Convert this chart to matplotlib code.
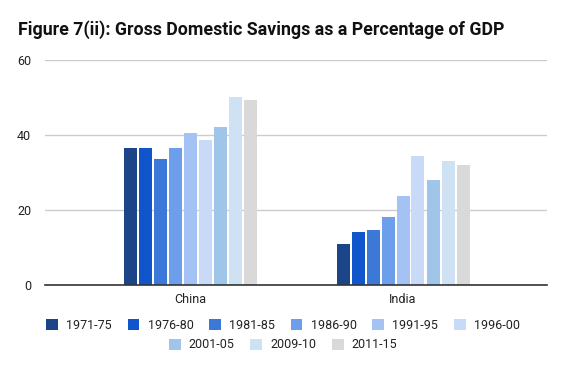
import matplotlib
matplotlib.use("Agg")
import matplotlib.pyplot as plt
import numpy as np
from matplotlib.patches import Patch

plt.rcParams['font.family'] = ['Roboto', 'DejaVu Sans']

countries = ['China', 'India']
periods = ['1971-75', '1976-80', '1981-85', '1986-90', '1991-95',
           '1996-00', '2001-05', '2009-10', '2011-15']

# savings as % of GDP, one list per country, in period order
china = [36.5, 36.5, 33.6, 36.5, 40.6, 38.7, 42.1, 50.1, 49.3]
india = [10.9, 14.1, 14.7, 18.2, 23.7, 34.4, 28.0, 33.1, 32.0]

colors = ['#1c4587', '#1155cc', '#3c78d8', '#6d9eeb', '#a4c2f4',
          '#c9daf8', '#9fc5e8', '#cfe2f3', '#d9d9d9']

y_ticks = [0, 20, 40, 60]

fig = plt.figure(figsize=(5.66, 3.71), dpi=100)
ax = fig.add_axes([45 / 566, 1 - 285 / 371, 502 / 566, 225 / 371])

values = np.array([china, india])
x = np.arange(len(countries))
pitch = 15 / 213
width = 13 / 213

for j, period in enumerate(periods):
    ax.bar(x + (j - 4) * pitch, values[:, j], width=width,
           color=colors[j], zorder=3, linewidth=0)

ax.set_xlim(-145 / 213, 1 + 144 / 213)
ax.set_ylim(0, 60)
ax.set_yticks(y_ticks)
ax.set_xticks(x)
ax.set_xticklabels(countries)
ax.tick_params(axis='both', length=0, labelsize=9, colors='#222222')
ax.tick_params(axis='y', pad=10)
ax.tick_params(axis='x', pad=6)
ax.grid(axis='y', color='#cccccc', linewidth=1, zorder=0)
for s in ['top', 'right', 'left']:
    ax.spines[s].set_visible(False)
ax.spines['bottom'].set_color('#333333')
ax.spines['bottom'].set_linewidth(1.2)
ax.spines['bottom'].set_zorder(4)

fig.text(18 / 566, 1 - 35 / 371,
         'Figure 7(ii): Gross Domestic Savings as a Percentage of GDP',
         fontsize=12.8, fontweight='bold', color='#111111', va='baseline')

handles = [Patch(facecolor=c, edgecolor='none') for c in colors]
leg_opts = dict(loc='center', frameon=False, fontsize=9,
                handlelength=0.95, handleheight=0.95, handletextpad=0.65,
                columnspacing=1.25, borderpad=0, labelcolor='#222222')
fig.legend(handles[:6], periods[:6], ncol=6,
           bbox_to_anchor=(0.5, 1 - 325.5 / 371), **leg_opts)
fig.legend(handles[6:], periods[6:], ncol=3,
           bbox_to_anchor=(0.5, 1 - 345 / 371), **leg_opts)

fig.savefig('out.png', dpi=100)
